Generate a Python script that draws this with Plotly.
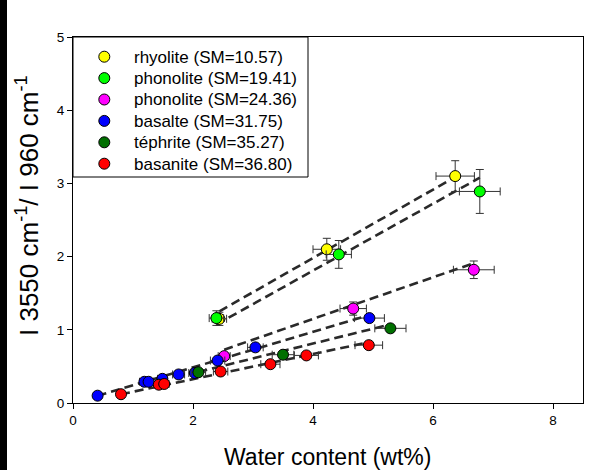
import plotly.graph_objects as go

# ---------------- data ----------------
names = ["rhyolite (SM=10.57)", "phonolite (SM=19.41)", "phonolite (SM=24.36)",
         "basalte (SM=31.75)", "téphrite (SM=35.27)", "basanite (SM=36.80)"]
colors = ["#ffff00", "#00ff00", "#ff00ff", "#0000ff", "#007000", "#ff0000"]

rhy_x = [2.44, 4.23, 6.37]
rhy_y = [1.15, 2.10, 3.10]
rhy_ex = [0.12, 0.23, 0.32]
rhy_ey = [0.09, 0.15, 0.21]

pho1_x = [2.39, 4.43, 6.78]
pho1_y = [1.16, 2.03, 2.89]
pho1_ex = [0.12, 0.21, 0.34]
pho1_ey = [0.10, 0.19, 0.30]

pho2_x = [2.52, 4.67, 6.68]
pho2_y = [0.64, 1.29, 1.82]
pho2_ex = [0.10, 0.22, 0.34]
pho2_ey = [0.04, 0.09, 0.12]

bas_x = [0.41, 1.19, 1.26, 1.49, 1.76, 2.03, 2.41, 3.04, 4.94]
bas_y = [0.10, 0.29, 0.29, 0.33, 0.39, 0.41, 0.58, 0.76, 1.16]
bas_ex = [0.05, 0.08, 0.08, 0.08, 0.1, 0.1, 0.12, 0.13, 0.25]
bas_ey = [0.01, 0.02, 0.02, 0.02, 0.02, 0.02, 0.03, 0.03, 0.04]

tep_x = [2.09, 3.50, 5.29]
tep_y = [0.42, 0.66, 1.02]
tep_ex = [0.12, 0.18, 0.26]
tep_ey = [0.02, 0.03, 0.04]

bsn_x = [0.80, 1.43, 1.52, 2.46, 3.29, 3.89, 4.93]
bsn_y = [0.12, 0.25, 0.26, 0.43, 0.53, 0.65, 0.79]
bsn_ex = [0.06, 0.08, 0.08, 0.12, 0.16, 0.2, 0.23]
bsn_ey = [0.01, 0.02, 0.02, 0.02, 0.03, 0.03, 0.04]

# fitted lines: start x, end x, slope, intercept
fit_x0 = [2.44, 2.39, 2.52, 0.41, 2.09, 0.80]
fit_x1 = [6.35, 6.78, 6.68, 4.94, 5.29, 4.93]
fit_slope = [0.467, 0.457, 0.284, 0.243, 0.203, 0.172]
fit_icpt = [0.113, -0.020, 0.013, 0.000, 0.000, -0.018]

x_title = "Water content (wt%)"
y_title = "I 3550 cm<sup>-1</sup>/ I 960 cm<sup>-1</sup>"

series = [
    (rhy_x, rhy_y, rhy_ex, rhy_ey),
    (pho1_x, pho1_y, pho1_ex, pho1_ey),
    (pho2_x, pho2_y, pho2_ex, pho2_ey),
    (bas_x, bas_y, bas_ex, bas_ey),
    (tep_x, tep_y, tep_ex, tep_ey),
    (bsn_x, bsn_y, bsn_ex, bsn_ey),
]

# ---------------- layout geometry (pixels) ----------------
W, H = 605, 470
ML, MR, MT, MB = 73, 22, 37, 67
PW, PH = W - ML - MR, H - MT - MB


def px_x(p):
    return (p - ML) / PW


def px_y(p):
    return (H - MB - p) / PH


FONT = "Liberation Sans, Arial, sans-serif"
fig = go.Figure()

# fit lines first (beneath markers)
for i in range(len(names)):
    xs = [fit_x0[i], fit_x1[i]]
    ys = [fit_slope[i] * v + fit_icpt[i] for v in xs]
    fig.add_trace(go.Scatter(x=xs, y=ys, mode="lines", showlegend=False,
                             hoverinfo="skip",
                             line=dict(color="#2a2a2a", width=2.6, dash="9px,5px")))

for i, (sx, sy, sex, sey) in enumerate(series):
    fig.add_trace(go.Scatter(
        x=sx, y=sy, mode="markers", name=names[i], showlegend=False,
        marker=dict(color=colors[i], size=11, line=dict(color="black", width=1)),
        error_x=dict(type="data", array=sex, visible=True, color="#333333",
                     thickness=1, width=4),
        error_y=dict(type="data", array=sey, visible=True, color="#333333",
                     thickness=1, width=4),
    ))

shapes = []
annotations = []

# left black band
shapes.append(dict(type="rect", xref="paper", yref="paper",
                   x0=px_x(0), x1=px_x(7), y0=px_y(H), y1=px_y(0),
                   line=dict(width=0), fillcolor="black", layer="above"))

# legend frame
shapes.append(dict(type="rect", xref="paper", yref="paper",
                   x0=0, x1=px_x(308), y0=px_y(177), y1=1,
                   line=dict(color="black", width=1), fillcolor="white", layer="above"))

row0, rowgap = 56.7, 21.4
for i in range(len(names)):
    cy = row0 + i * rowgap
    shapes.append(dict(type="circle", xref="paper", yref="paper",
                       xsizemode="pixel", ysizemode="pixel",
                       xanchor=px_x(104.3), yanchor=px_y(cy),
                       x0=-5.5, x1=5.5, y0=-5.5, y1=5.5,
                       fillcolor=colors[i], line=dict(color="black", width=1),
                       layer="above"))
    annotations.append(dict(xref="paper", yref="paper", x=px_x(131.5), y=px_y(cy + 0.5),
                            xanchor="left", yanchor="middle", showarrow=False,
                            text=names[i], font=dict(family=FONT, size=17, color="black")))

# axis titles
annotations.append(dict(xref="paper", yref="paper", x=px_x(327), y=px_y(457),
                        xanchor="center", yanchor="middle", showarrow=False,
                        text=x_title, font=dict(family=FONT, size=23, color="black")))
annotations.append(dict(xref="paper", yref="paper", x=px_x(28), y=px_y(206),
                        xanchor="center", yanchor="middle", showarrow=False,
                        textangle=-90,
                        text=y_title, font=dict(family=FONT, size=26, color="black")))

axis_common = dict(showline=True, linecolor="black", linewidth=1, mirror=True,
                   ticks="outside", ticklen=5, tickcolor="black", showgrid=False,
                   zeroline=False, automargin=False,
                   tickfont=dict(family=FONT, size=13.5, color="black"))

fig.update_layout(
    width=W, height=H,
    margin=dict(l=ML, r=MR, t=MT, b=MB),
    paper_bgcolor="white", plot_bgcolor="white",
    font=dict(family=FONT, color="black"),
    xaxis=dict(range=[0, 8.5], dtick=2, tick0=0, **axis_common),
    yaxis=dict(range=[0, 5], dtick=1, tick0=0, **axis_common),
    shapes=shapes,
    annotations=annotations,
    showlegend=False,
)

fig.write_html("out.html", config={"displayModeBar": False},
               post_script="document.body.style.margin='0px';"
                           "document.body.style.padding='0px';"
                           "var band=document.createElement('div');"
                           "band.style.cssText='position:fixed;left:0;top:0;width:7px;"
                           "height:100%;background:#000;z-index:9999;pointer-events:none';"
                           "document.body.appendChild(band);")
